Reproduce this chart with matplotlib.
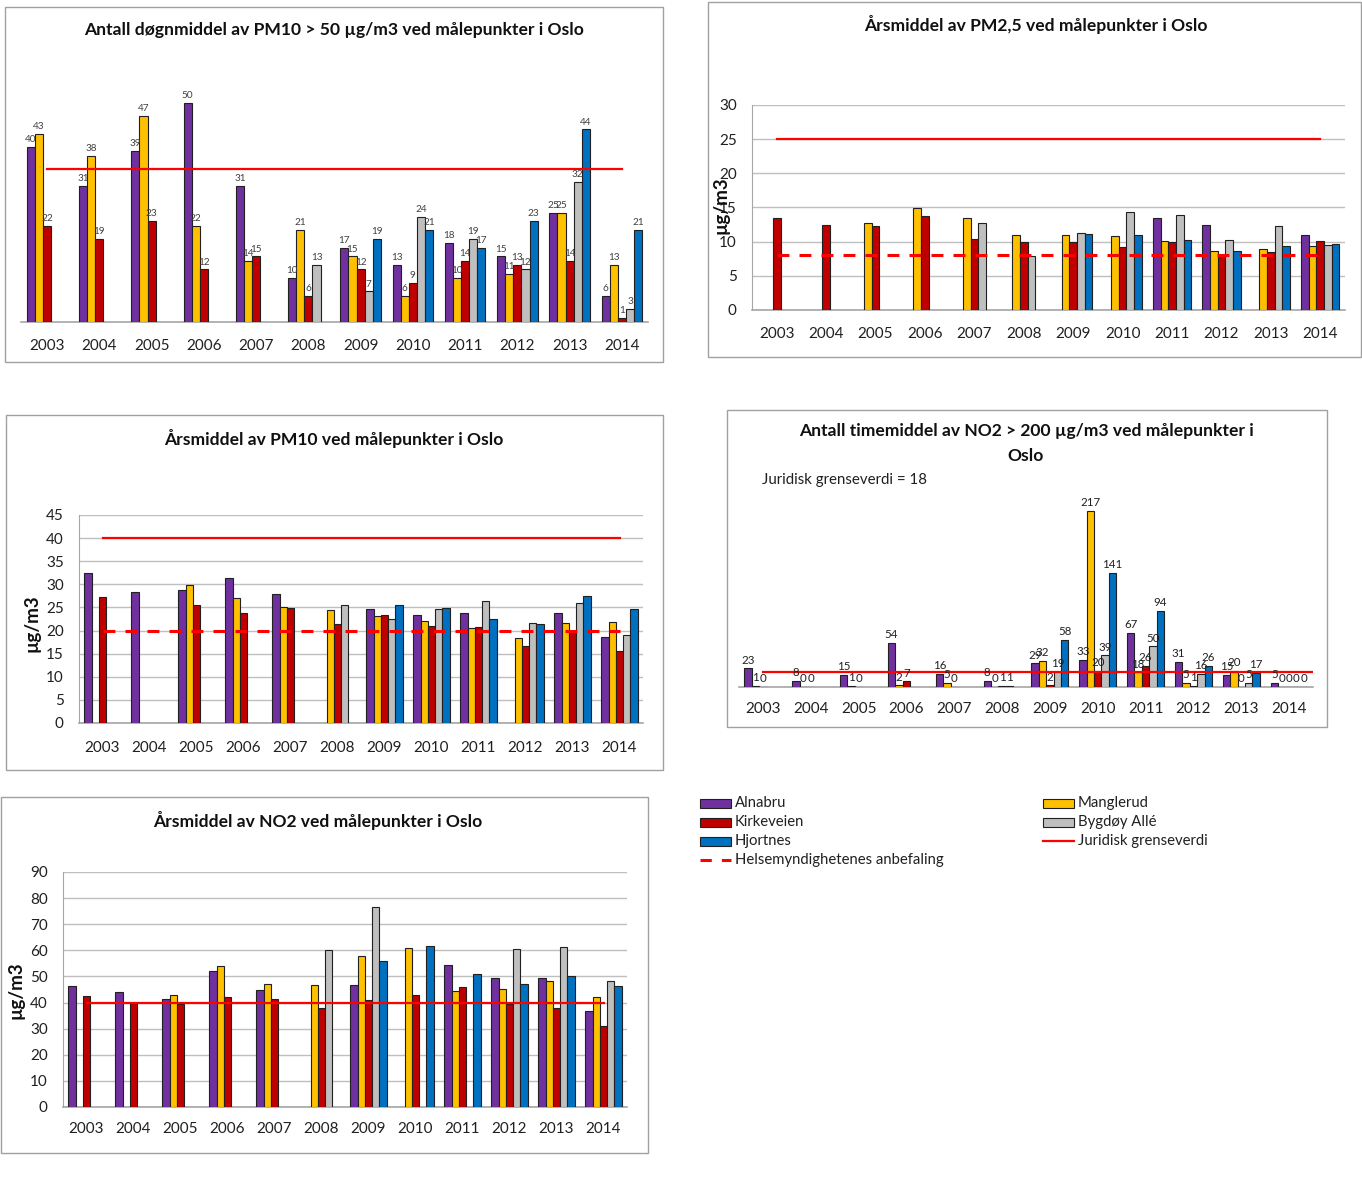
import numpy as np
import matplotlib
matplotlib.use('Agg')
from matplotlib import pyplot as plt
from matplotlib.patches import Rectangle
from matplotlib.lines import Line2D

plt.rcParams['font.family'] = ['Lato', 'DejaVu Sans']

nan = np.nan

years = ['2003', '2004', '2005', '2006', '2007', '2008',
         '2009', '2010', '2011', '2012', '2013', '2014']
stations = ['Alnabru', 'Manglerud', 'Kirkeveien', 'Bygdøy Allé', 'Hjortnes']
colors = ['#7030A0', '#FFC000', '#C00000', '#BFBFBF', '#0070C0']

#Antall dogn med PM10 > 50
pm10_days_alnabru = [40, 31, 39, 50, 31, 10, 17, 13, 18, 15, 25, 6]
pm10_days_manglerud = [43, 38, 47, 22, 14, 21, 15, 6, 10, 11, 25, 13]
pm10_days_kirkeveien = [22, 19, 23, 12, 15, 6, 12, 9, 14, 13, 14, 1]
pm10_days_bygdoy = [nan, nan, nan, nan, nan, 13, 7, 24, 19, 12, 32, 3]
pm10_days_hjortnes = [nan, nan, nan, nan, nan, nan, 19, 21, 17, 23, 44, 21]
pm10_days_limit = 35

#Arsmiddel PM2,5
pm25_alnabru = [nan, nan, nan, nan, nan, nan, nan, nan, 13.4, 12.5, nan, 11.0]
pm25_manglerud = [nan, nan, 12.7, 14.9, 13.4, 11.0, 11.0, 10.8, 10.1, 8.7, 8.9, 9.4]
pm25_kirkeveien = [13.4, 12.4, 12.3, 13.7, 10.4, 9.9, 9.9, 9.2, 9.9, 8.0, 8.5, 10.1]
pm25_bygdoy = [nan, nan, nan, nan, 12.7, 7.9, 11.3, 14.3, 13.9, 10.3, 12.3, 9.5]
pm25_hjortnes = [nan, nan, nan, nan, nan, nan, 11.1, 11.0, 10.2, 8.7, 9.4, 9.7]
pm25_limit = 25
pm25_advice = 8

#Arsmiddel PM10
pm10_alnabru = [32.5, 28.3, 28.8, 31.4, 28.0, nan, 24.7, 23.4, 23.8, nan, 23.8, 18.7]
pm10_manglerud = [nan, nan, 29.9, 27.0, 25.0, 24.5, 23.1, 22.0, 20.5, 18.3, 21.7, 21.8]
pm10_kirkeveien = [27.2, nan, 25.6, 23.8, 24.9, 21.4, 23.3, 21.0, 20.8, 16.6, 19.7, 15.6]
pm10_bygdoy = [nan, nan, nan, nan, nan, 25.6, 22.6, 24.6, 26.4, 21.6, 25.9, 19.0]
pm10_hjortnes = [nan, nan, nan, nan, nan, nan, 25.5, 24.9, 22.5, 21.4, 27.5, 24.7]
pm10_limit = 40
pm10_advice = 20

#Antall timer NO2 > 200
no2_hours_alnabru = [23, 8, 15, 54, 16, 8, 29, 33, 67, 31, 15, 5]
no2_hours_manglerud = [1, 0, 1, 2, 5, 0, 32, 217, 18, 5, 20, 0]
no2_hours_kirkeveien = [0, 0, 0, 7, 0, 1, 2, 20, 26, 1, 0, 0]
no2_hours_bygdoy = [nan, nan, nan, nan, nan, 1, 19, 39, 50, 16, 5, 0]
no2_hours_hjortnes = [nan, nan, nan, nan, nan, nan, 58, 141, 94, 26, 17, 0]
no2_hours_limit = 18

#Arsmiddel NO2
no2_alnabru = [46.4, 44.0, 41.2, 52.2, 45.0, nan, 46.7, nan, 54.5, 49.4, 49.4, 36.6]
no2_manglerud = [nan, nan, 42.8, 54.1, 47.2, 46.7, 57.8, 61.0, 44.4, 45.2, 48.4, 42.3]
no2_kirkeveien = [42.4, 40.0, 39.3, 42.0, 41.2, 38.0, 41.1, 43.0, 46.0, 39.6, 38.0, 31.1]
no2_bygdoy = [nan, nan, nan, nan, nan, 60.0, 76.5, nan, nan, 60.5, 61.2, 48.1]
no2_hjortnes = [nan, nan, nan, nan, nan, nan, 55.9, 61.5, 51.1, 47.2, 50.3, 46.2]
no2_limit = 40

W, H = 1362, 1182
fig = plt.figure(figsize=(W / 100, H / 100), dpi=100)

RED = '#FF0000'
GRID = '#BFBFBF'
SPINE = '#A6A6A6'
BW = 0.155


def px_axes(x0, y0, x1, y1):
    return fig.add_axes([x0 / W, 1 - y1 / H, (x1 - x0) / W, (y1 - y0) / H])


def border(x0, y0, x1, y1):
    fig.patches.append(Rectangle((x0 / W, 1 - y1 / H), (x1 - x0) / W, (y1 - y0) / H,
                                 transform=fig.transFigure, fill=False,
                                 edgecolor='#A0A0A0', lw=1.0))


def bars(ax, series, labels=False, fs=7, lcolor='#404040'):
    x = np.arange(len(years))
    for i, vals in enumerate(series):
        vals = np.array(vals, dtype=float)
        xs = x + (i - 2) * BW
        ax.bar(xs, vals, BW, color=colors[i], edgecolor='#202020', lw=0.8, zorder=3)
        if labels:
            for xi, v in zip(xs, vals):
                if not np.isnan(v):
                    ax.annotate('%d' % v, (xi, v), xytext=(0, 2), textcoords='offset points',
                                ha='center', va='bottom', fontsize=fs, color=lcolor, zorder=5)


def style(ax, ymax, ystep=None, xpad=12):
    ax.set_xlim(-0.5, len(years) - 0.5)
    ax.set_ylim(0, ymax)
    ax.set_xticks(np.arange(len(years)))
    ax.set_xticklabels(years)
    ax.tick_params(axis='x', length=0, pad=xpad, labelsize=11, labelcolor='#202020')
    for s in ['top', 'right']:
        ax.spines[s].set_visible(False)
    ax.spines['bottom'].set_color(SPINE)
    ax.spines['bottom'].set_linewidth(1.2)
    if ystep is None:
        ax.spines['left'].set_visible(False)
        ax.set_yticks([])
    else:
        ax.set_yticks(np.arange(0, ymax + 0.1, ystep))
        ax.tick_params(axis='y', length=0, pad=11, labelsize=11, labelcolor='#202020')
        ax.spines['left'].set_color(SPINE)
        ax.yaxis.grid(True, color=GRID, lw=1.0)
        ax.set_axisbelow(True)
    ax.patch.set_alpha(0)


def hline(ax, y, dashed=False, x1=None):
    if x1 is None:
        x1 = len(years) - 1
    ln, = ax.plot([0, x1], [y, y], color=RED, lw=2.2 if dashed else 1.6, zorder=4)
    if dashed:
        ln.set_dashes((3.9, 3.3))


title_kw = dict(fontsize=12.6, fontweight='bold', ha='center', va='center', color='#101010')
ylab_kw = dict(fontsize=13.5, fontweight='bold', rotation=90, ha='center', va='center', color='#101010')

# Panel A: antall dogn PM10 > 50
border(5, 7, 663, 362)
fig.text(334 / W, 1 - 30 / H, 'Antall døgnmiddel av PM10 > 50 µg/m3 ved målepunkter i Oslo', **title_kw)
axA = px_axes(21, 60, 648, 322)
bars(axA, [pm10_days_alnabru, pm10_days_manglerud, pm10_days_kirkeveien,
           pm10_days_bygdoy, pm10_days_hjortnes], labels=True, fs=7.2)
style(axA, (322 - 60) / 4.38, xpad=12.5)
hline(axA, pm10_days_limit)

# Panel B: arsmiddel PM2,5
border(708, 2, 1361, 357)
fig.text(1036 / W, 1 - 25 / H, 'Årsmiddel av PM2,5 ved målepunkter i Oslo', **title_kw)
axB = px_axes(752, 105, 1345, 310)
bars(axB, [pm25_alnabru, pm25_manglerud, pm25_kirkeveien, pm25_bygdoy, pm25_hjortnes])
style(axB, 30, 5, xpad=12.5)
hline(axB, pm25_limit)
hline(axB, pm25_advice, dashed=True)
fig.text(721 / W, 1 - 205 / H, 'µg/m3', **ylab_kw)

# Panel C: arsmiddel PM10
border(6, 415, 663, 770)
fig.text(334 / W, 1 - 438 / H, 'Årsmiddel av PM10 ved målepunkter i Oslo', **title_kw)
axC = px_axes(79, 515, 643, 723)
bars(axC, [pm10_alnabru, pm10_manglerud, pm10_kirkeveien, pm10_bygdoy, pm10_hjortnes])
style(axC, 45, 5, xpad=13)
hline(axC, pm10_limit)
hline(axC, pm10_advice, dashed=True)
fig.text(32 / W, 1 - 623 / H, 'µg/m3', **ylab_kw)

# Panel D: antall timer NO2 > 200
border(727, 410, 1327, 727)
fig.text(1026 / W, 1 - 431 / H, 'Antall timemiddel av NO2 > 200 µg/m3 ved målepunkter i', **title_kw)
fig.text(1026 / W, 1 - 456 / H, 'Oslo', **title_kw)
fig.text(762 / W, 1 - 480 / H, 'Juridisk grenseverdi = %d' % no2_hours_limit,
         fontsize=10.8, ha='left', va='center', color='#202020')
axD = px_axes(739, 480, 1313, 687)
bars(axD, [no2_hours_alnabru, no2_hours_manglerud, no2_hours_kirkeveien,
           no2_hours_bygdoy, no2_hours_hjortnes], labels=True, fs=8.3, lcolor='#202020')
style(axD, (687 - 480) / 0.811, xpad=11)
hline(axD, no2_hours_limit, x1=len(years) - 0.45)

# Panel E: arsmiddel NO2
border(1, 797, 648, 1153)
fig.text(318 / W, 1 - 820 / H, 'Årsmiddel av NO2 ved målepunkter i Oslo', **title_kw)
axE = px_axes(63, 872, 627, 1107)
bars(axE, [no2_alnabru, no2_manglerud, no2_kirkeveien, no2_bygdoy, no2_hjortnes])
style(axE, 90, 10, xpad=11)
hline(axE, no2_limit)
fig.text(16 / W, 1 - 990 / H, 'µg/m3', **ylab_kw)

# Felles legend
leg_items = [(700, 803, 0, 'patch'), (700, 822, 2, 'patch'), (700, 841, 4, 'patch'),
             (700, 860, None, 'dash'), (1043, 803, 1, 'patch'), (1043, 822, 3, 'patch'),
             (1043, 841, None, 'line')]
for x0, yc, ci, kind in leg_items:
    if kind == 'patch':
        fig.patches.append(Rectangle((x0 / W, 1 - (yc + 4.5) / H), 31 / W, 9 / H,
                                     transform=fig.transFigure, facecolor=colors[ci],
                                     edgecolor='#202020', lw=0.8))
        label = stations[ci]
    elif kind == 'dash':
        ln = Line2D([x0 / W, (x0 + 31) / W], [1 - yc / H] * 2, transform=fig.transFigure,
                    color=RED, lw=2.2)
        ln.set_dashes((3.7, 3.3))
        fig.lines.append(ln)
        label = 'Helsemyndighetenes anbefaling'
    else:
        fig.lines.append(Line2D([x0 / W, (x0 + 31) / W], [1 - yc / H] * 2,
                                transform=fig.transFigure, color=RED, lw=1.6))
        label = 'Juridisk grenseverdi'
    fig.text((x0 + 35) / W, 1 - yc / H, label, fontsize=10.7, ha='left', va='center',
             color='#202020')

plt.savefig('out.png', dpi=100)
